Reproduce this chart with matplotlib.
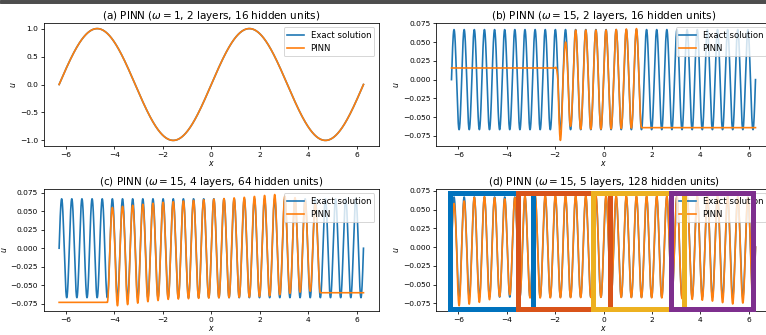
import numpy as np
import matplotlib
matplotlib.use('Agg')
import matplotlib.pyplot as plt
from matplotlib.patches import Rectangle
from matplotlib.transforms import blended_transform_factory

W, H, DPI = 766, 335, 70

plt.rcParams['xtick.labelsize'] = 7.7
plt.rcParams['ytick.labelsize'] = 7.7
plt.rcParams['axes.labelsize'] = 8
plt.rcParams['axes.titlesize'] = 10.7
plt.rcParams['legend.fontsize'] = 8.7
plt.rcParams['lines.linewidth'] = 1.7

# panel settings (from the titles)
tags = ['a', 'b', 'c', 'd']
omegas = [1, 15, 15, 15]
layers = [2, 2, 4, 5]
units = [16, 16, 64, 128]

# PINN peak / trough magnitudes
b_peak_x = [-1.99, -1.57, -1.15, 0.0, 1.36]
b_peak_v = [0.0155, 0.050, 0.066, 0.066, 0.068]
b_trough_x = [-1.78, -1.36, -0.94, 0.0, 1.57]
b_trough_v = [0.081, 0.062, 0.066, 0.066, 0.064]
b_left = (-1.99, 0.0155)      # flat part before
b_right = (1.571, -0.064)     # flat part after

c_peak_x = [-4.08, -3.24, -2.0, 0.0, 1.5, 2.6, 3.5, 4.3]
c_peak_v = [0.055, 0.058, 0.062, 0.066, 0.069, 0.0725, 0.068, 0.060]
c_trough_x = [-4.29, -3.87, -3.45, -2.6, -1.8, 0.0, 1.5, 2.5, 3.7, 4.1, 4.5]
c_trough_v = [0.073, 0.0776, 0.076, 0.072, 0.069, 0.067, 0.066, 0.064, 0.059, 0.058, 0.060]
c_left = (-4.293, -0.073)
c_right = (4.503, -0.060)

d_peak_x = [-6.1, -5.7, -5.2, -4.0, -3.0, 0.0, 3.0, 5.0, 6.1]
d_peak_v = [0.058, 0.062, 0.068, 0.064, 0.070, 0.069, 0.068, 0.068, 0.066]
d_trough_x = [-6.2, -5.9, -5.0, -4.0, -3.0, 0.0, 3.0, 4.5, 5.3, 6.0]
d_trough_v = [0.079, 0.078, 0.073, 0.063, 0.068, 0.067, 0.068, 0.072, 0.076, 0.074]

# highlight boxes on panel (d), x extents in data units
box_x0 = [-6.35, -3.54, -0.43, 2.80]
box_x1 = [-2.92, 0.26, 3.33, 6.20]
box_colors = ['#0072BD', '#D95319', '#EDB120', '#7E2F8E']

small_ticks = [-0.075, -0.050, -0.025, 0.000, 0.025, 0.050, 0.075]

x = np.linspace(-2 * np.pi, 2 * np.pi, 4000)


def pinn_curve(w, pk_x, pk_v, tr_x, tr_v, left=None, right=None):
    s = np.sin(w * x)
    amp = np.where(s > 0, np.interp(x, pk_x, pk_v), np.interp(x, tr_x, tr_v))
    u = s * amp
    if left is not None:
        u = np.where(x < left[0], left[1], u)
    if right is not None:
        u = np.where(x > right[0], right[1], u)
    return u


exact = [np.sin(w * x) / w for w in omegas]
pinn = [
    np.sin(omegas[0] * x) / omegas[0],
    pinn_curve(omegas[1], b_peak_x, b_peak_v, b_trough_x, b_trough_v, b_left, b_right),
    pinn_curve(omegas[2], c_peak_x, c_peak_v, c_trough_x, c_trough_v, c_left, c_right),
    pinn_curve(omegas[3], d_peak_x, d_peak_v, d_trough_x, d_trough_v),
]

fig = plt.figure(figsize=(W / DPI, H / DPI), dpi=DPI)

# axes rectangles in pixels: left, right, top, bottom
rects = [(43.9, 378.7, 23, 146), (436.3, 770.7, 23, 146),
         (43.9, 378.7, 189, 311.3), (436.3, 770.7, 189, 311.3)]

axes = []
for i, (l, r, t, b) in enumerate(rects):
    ax = fig.add_axes([l / W, 1 - b / H, (r - l) / W, (b - t) / H])
    ax.plot(x, exact[i], color='C0', label='Exact solution')
    ax.plot(x, pinn[i], color='C1', label='PINN')
    ax.set_title(f'({tags[i]}) PINN ($\\omega = {omegas[i]}$, {layers[i]} layers, {units[i]} hidden units)',
                 pad=4)
    ax.set_xlabel('$x$', labelpad=1)
    ax.set_ylabel('$u$', labelpad=2)
    if i > 0:
        ax.set_yticks(small_ticks)
    ax.tick_params(pad=2.5)
    ax.legend(loc='upper right')
    axes.append(ax)

# coloured boxes over panel (d)
ax = axes[3]
tr = blended_transform_factory(ax.transData, ax.transAxes)
for x0, x1, c in zip(box_x0, box_x1, box_colors):
    ax.add_patch(Rectangle((x0, 0.018), x1 - x0, 0.953, transform=tr, fill=False,
                           edgecolor=c, lw=5 * 72 / DPI, joinstyle='miter',
                           zorder=6, clip_on=False))

# dark strip along the top edge
fig.patches.append(Rectangle((0, 1 - 2.5 / H), 1, 2.5 / H, transform=fig.transFigure,
                             color='#4d4d4d', zorder=10))

fig.savefig('out.png', dpi=DPI)
